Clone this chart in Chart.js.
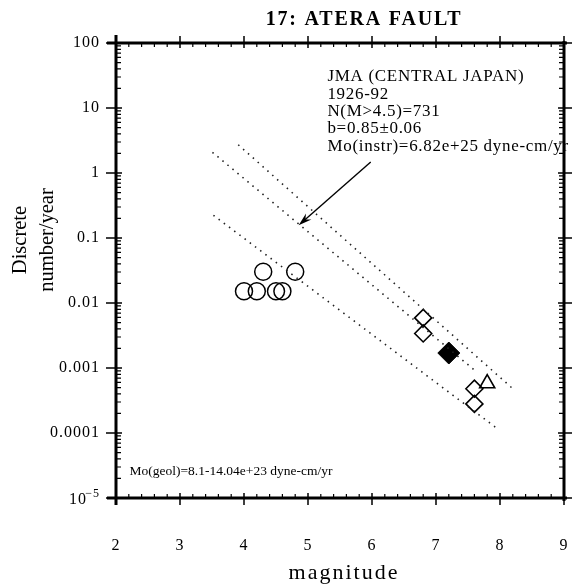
<!DOCTYPE html>
<html>
<head>
<meta charset="utf-8">
<script src="https://cdn.jsdelivr.net/npm/chart.js@4"></script>
<style>
  body { margin: 0; background: #fff; }
  canvas { display: block; }
</style>
</head>
<body>
<canvas id="faultChart" width="576" height="586"></canvas>
<script>
// binned catalogue rates (open circles)
const circleMag = [4.0, 4.2, 4.5, 4.6, 4.3, 4.8];
const circleRate = [0.01515, 0.01515, 0.01515, 0.01515, 0.0303, 0.0303];

// paleoseismic / historical events
const diamondMag = [6.8, 6.8, 7.6, 7.6];
const diamondRate = [0.0059, 0.0034, 0.00048, 0.00028];
const solidDiamondMag = [7.2];
const solidDiamondRate = [0.0017];
const triangleMag = [7.8];
const triangleRate = [0.00058];

// dotted recurrence lines (end points)
const upperLineMag = [3.91, 8.215];
const upperLineRate = [2.72, 0.000466];
const middleLineMag = [3.507, 7.642];
const middleLineRate = [2.08, 0.000859];
const lowerLineMag = [3.522, 7.925];
const lowerLineRate = [0.2235, 0.0001236];

// arrow from the label block to the middle line
const arrowMag = [5.98, 4.854];
const arrowRate = [1.476, 0.1567];

const xTicks = [2, 3, 4, 5, 6, 7, 8, 9];
const yTicks = [100, 10, 1, 0.1, 0.01, 0.001, 0.0001, 0.00001];
const yTickLabels = ['100', '10', '1', '0.1', '0.01', '0.001', '0.0001', '10^-5'];

const infoLines = ['JMA (CENTRAL JAPAN)', '1926-92', 'N(M>4.5)=731', 'b=0.85\u00b10.06', 'Mo(instr)=6.82e+25 dyne-cm/yr'];
const geolText = 'Mo(geol)=8.1-14.04e+23 dyne-cm/yr';

const pts = (xs, ys) => xs.map((x, i) => ({ x, y: ys[i] }));
const SERIF = '"Liberation Serif", "DejaVu Serif", serif';

function dotted(xs, ys) {
  return {
    type: 'line',
    data: pts(xs, ys),
    borderColor: '#222',
    borderWidth: 1.6,
    borderDash: [1.5, 5],
    pointRadius: 0,
    fill: false
  };
}

const framePlugin = {
  id: 'frame',
  afterDatasetsDraw(chart) {
    const ctx = chart.ctx;
    const xs = chart.scales.x, ys = chart.scales.y;
    const { left, right, top, bottom } = chart.chartArea;
    ctx.save();
    ctx.strokeStyle = '#000';
    ctx.fillStyle = '#000';
    ctx.lineCap = 'butt';

    // label block (drawn first so the right border sits over its tail)
    ctx.font = '17px ' + SERIF;
    ctx.letterSpacing = '0.7px';
    ctx.textAlign = 'left';
    ctx.textBaseline = 'alphabetic';
    const bx = xs.getPixelForValue(5.303);
    const by = ys.getPixelForValue(25.8);
    infoLines.forEach((t, i) => ctx.fillText(t, bx, by + i * 17.4));

    ctx.font = '13.5px ' + SERIF;
    ctx.letterSpacing = '0px';
    ctx.fillText(geolText, xs.getPixelForValue(2.21), ys.getPixelForValue(0.0000223));

    // heavy frame with slight overshoot at the corners
    ctx.lineWidth = 3;
    ctx.beginPath();
    ctx.moveTo(left - 9, top); ctx.lineTo(right + 3, top);
    ctx.moveTo(left - 9, bottom); ctx.lineTo(right + 3, bottom);
    ctx.moveTo(left, top - 8); ctx.lineTo(left, bottom + 7);
    ctx.moveTo(right, top - 2); ctx.lineTo(right, bottom + 3);
    ctx.stroke();

    // x ticks
    ctx.lineWidth = 1.5;
    ctx.beginPath();
    xTicks.forEach(v => {
      const px = xs.getPixelForValue(v);
      ctx.moveTo(px, bottom - 5); ctx.lineTo(px, bottom + 7);
      ctx.moveTo(px, top - 7); ctx.lineTo(px, top + 5);
    });
    ctx.stroke();
    ctx.lineWidth = 1.2;
    ctx.beginPath();
    for (let m = 2; m < 9; m++) {
      for (let k = 1; k < 5; k++) {
        const px = xs.getPixelForValue(m + k * 0.2);
        ctx.moveTo(px, bottom); ctx.lineTo(px, bottom - 4);
        ctx.moveTo(px, top); ctx.lineTo(px, top + 4);
      }
    }
    ctx.stroke();

    // y ticks (log decades + minor 2..9)
    ctx.lineWidth = 1.5;
    ctx.beginPath();
    yTicks.forEach(v => {
      const py = ys.getPixelForValue(v);
      ctx.moveTo(left - 10, py); ctx.lineTo(left + 6, py);
      ctx.moveTo(right - 6, py); ctx.lineTo(right + 8, py);
    });
    ctx.stroke();
    ctx.lineWidth = 1.2;
    ctx.beginPath();
    for (let e = -5; e < 2; e++) {
      for (let k = 2; k < 10; k++) {
        const py = ys.getPixelForValue(k * Math.pow(10, e));
        ctx.moveTo(left, py); ctx.lineTo(left + 5, py);
        ctx.moveTo(right, py); ctx.lineTo(right - 5, py);
      }
    }
    ctx.stroke();

    // tick labels
    ctx.font = '16px ' + SERIF;
    ctx.letterSpacing = '1px';
    ctx.textBaseline = 'middle';
    ctx.textAlign = 'right';
    yTicks.forEach((v, i) => {
      const py = ys.getPixelForValue(v);
      const lab = yTickLabels[i];
      if (lab.includes('^')) {
        const [base, exp] = lab.split('^');
        ctx.font = '12px ' + SERIF;
        ctx.fillText(exp.replace('-', '\u2212'), left - 16, py - 4);
        const w = ctx.measureText(exp).width;
        ctx.font = '16px ' + SERIF;
        ctx.fillText(base, left - 17 - w, py + 2);
      } else {
        ctx.fillText(lab, left - 16, py);
      }
    });
    ctx.textAlign = 'center';
    xTicks.forEach(v => {
      ctx.fillText(String(v), xs.getPixelForValue(v), bottom + 48);
    });

    // axis titles
    ctx.font = '22px ' + SERIF;
    ctx.letterSpacing = '2px';
    ctx.textBaseline = 'alphabetic';
    ctx.fillText('magnitude', (left + right) / 2 + 4, bottom + 81);
    ctx.save();
    ctx.translate(0, 240);
    ctx.rotate(-Math.PI / 2);
    ctx.font = '20.5px ' + SERIF;
    ctx.letterSpacing = '0px';
    ctx.fillText('Discrete', 0, 26);
    ctx.fillText('number/year', 0, 53);
    ctx.restore();

    // title
    ctx.font = 'bold 20px ' + SERIF;
    ctx.letterSpacing = '1.8px';
    ctx.fillText('17: ATERA FAULT', 364, 25);

    // arrow
    const ax0 = xs.getPixelForValue(arrowMag[0]), ay0 = ys.getPixelForValue(arrowRate[0]);
    const ax1 = xs.getPixelForValue(arrowMag[1]), ay1 = ys.getPixelForValue(arrowRate[1]);
    const ang = Math.atan2(ay1 - ay0, ax1 - ax0);
    ctx.lineWidth = 1.4;
    ctx.beginPath();
    ctx.moveTo(ax0, ay0);
    ctx.lineTo(ax1 - 8 * Math.cos(ang), ay1 - 8 * Math.sin(ang));
    ctx.stroke();
    ctx.beginPath();
    ctx.moveTo(ax1, ay1);
    ctx.lineTo(ax1 - 14 * Math.cos(ang - 0.3), ay1 - 14 * Math.sin(ang - 0.3));
    ctx.lineTo(ax1 - 9 * Math.cos(ang), ay1 - 9 * Math.sin(ang));
    ctx.lineTo(ax1 - 14 * Math.cos(ang + 0.3), ay1 - 14 * Math.sin(ang + 0.3));
    ctx.closePath();
    ctx.fill();
    ctx.restore();
  }
};

new Chart(document.getElementById('faultChart').getContext('2d'), {
  type: 'scatter',
  data: {
    datasets: [
      dotted(upperLineMag, upperLineRate),
      dotted(middleLineMag, middleLineRate),
      dotted(lowerLineMag, lowerLineRate),
      {
        data: pts(circleMag, circleRate),
        pointStyle: 'circle',
        pointRadius: 8.5,
        borderColor: '#000',
        borderWidth: 1.5,
        backgroundColor: 'rgba(0,0,0,0)'
      },
      {
        data: pts(diamondMag, diamondRate),
        pointStyle: 'rectRot',
        pointRadius: 8.5,
        borderColor: '#000',
        borderWidth: 1.6,
        backgroundColor: 'rgba(0,0,0,0)'
      },
      {
        data: pts(solidDiamondMag, solidDiamondRate),
        pointStyle: 'rectRot',
        pointRadius: 11,
        borderColor: '#000',
        borderWidth: 1,
        backgroundColor: '#000'
      },
      {
        data: pts(triangleMag, triangleRate),
        pointStyle: 'triangle',
        pointRadius: 8.7,
        borderColor: '#000',
        borderWidth: 1.6,
        backgroundColor: 'rgba(0,0,0,0)'
      }
    ]
  },
  options: {
    responsive: false,
    animation: false,
    layout: { padding: { left: 116, right: 8, top: 43, bottom: 88 } },
    plugins: { legend: { display: false }, tooltip: { enabled: false } },
    scales: {
      x: { type: 'linear', min: 2, max: 9, display: false },
      y: { type: 'logarithmic', min: 0.00001, max: 100, display: false }
    }
  },
  plugins: [framePlugin]
});
</script>
</body>
</html>
